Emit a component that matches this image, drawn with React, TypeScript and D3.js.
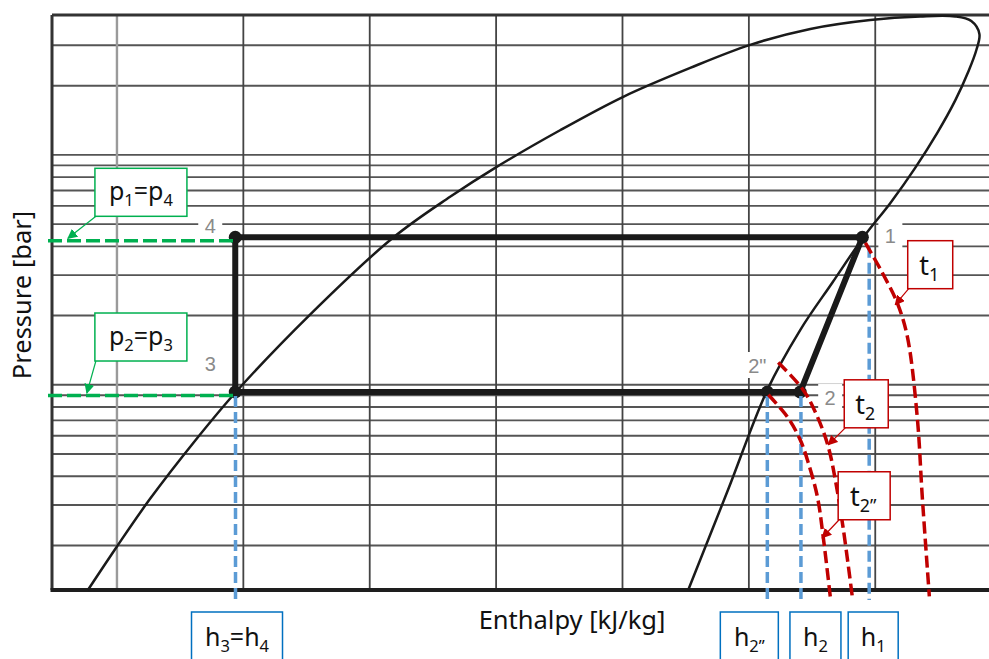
import React from 'react';
import * as d3 from 'd3';

const W = 989;
const H = 659;

// axes
const hExtent = [124.3, 495]; // kJ/kg
const pExtent = [1.28, 406]; // bar
const hGrid = [150, 200, 250, 300, 350, 400, 450];
const pGrid = [2, 3, 4, 5, 6, 7, 8, 9, 10, 20, 30, 40, 50, 60, 70, 80, 90, 100, 200, 300];

// saturation dome, liquid side -> critical point -> vapour side
const domeH = [138.5, 150, 163.1, 180.9, 197.5, 226.4, 259.2, 281.8, 299.6, 325.3, 350.3, 376.8, 400.5, 424.3, 448.0, 467.8, 481.7, 488.0, 491.2, 490.0, 486.8, 481.7, 474.6, 465.8, 456, 445.7, 433.0, 420.3, 407.3, 391.8, 376];
const domeP = [1.28, 1.98, 3.19, 5.71, 9.42, 20.2, 43.6, 65.7, 87.8, 128, 179, 239, 301, 353, 386, 400, 400, 382, 336, 286, 230, 173, 125, 87.8, 61.8, 44.4, 27.8, 17.3, 9.5, 3.5, 1.28];

// cycle
const pHigh = 43.8;
const pLow = 9.3;
const h34 = 196.8;
const h1 = 444.9;
const h2 = 420.3;
const h2s = 407.3;

// isotherms
const t1H = [446.1, 452.8, 458.7, 462.7, 466.6, 468.6, 471.4];
const t1P = [41.4, 30.7, 22.7, 16.2, 7.26, 3.26, 1.2];
const t2H = [411.6, 421.5, 427.1, 431.4, 434.2, 437.4, 440.9];
const t2P = [12.5, 9.5, 7.26, 5.38, 3.86, 2.34, 1.2];
const t2sH = [407.7, 415.2, 420.3, 423.5, 427.1, 429.4, 432.2];
const t2sP = [9.05, 7.26, 5.77, 4.58, 3.26, 2.18, 1.2];

// enthalpy markers
const markH = [196.9, 407.3, 420.6, 447.6];
const markFrom = [pLow, pLow, pLow, 41.5];
const markLabel = [['h', '3', '=h', '4'], ['h', '2”'], ['h', '2'], ['h', '1']];

const FONT = '"Noto Sans", "Open Sans", sans-serif';

function SubText({ parts, x, y, size = 25 }: { parts: string[]; x: number; y: number; size?: number }) {
  return (
    <text x={x} y={y} textAnchor="middle" fontFamily={FONT} fontSize={size} fill="#111">
      {parts.map((t, i) =>
        i % 2 === 1 ? (
          <tspan key={i} fontSize={size * 0.66} dy={6}>{t}</tspan>
        ) : (
          <tspan key={i} dy={i === 0 ? 0 : -6}>{t}</tspan>
        )
      )}
    </text>
  );
}

export default function App() {
  const x = d3.scaleLinear().domain(hExtent).range([52, W]);
  const y = d3.scaleLog().domain(pExtent).range([590, 15]);
  const left = x(hExtent[0]);
  const top = y(pExtent[1]);
  const bottom = y(pExtent[0]);

  const curve = d3.line<[number, number]>().x(d => x(d[0])).y(d => y(d[1])).curve(d3.curveCatmullRom.alpha(0.5));
  const zip = (a: number[], b: number[]) => a.map((v, i) => [v, b[i]] as [number, number]);

  const cycle = d3.line<[number, number]>().x(d => x(d[0])).y(d => y(d[1]));
  const cyclePts: [number, number][] = [[h34, pHigh], [h1, pHigh], [h2, pLow], [h34, pLow], [h34, pHigh]];
  const dots: [number, number][] = [[h34, pHigh], [h1, pHigh], [h2, pLow], [h2s, pLow], [h34, pLow]];

  const pointLabels = [
    { t: '4', h: h34, p: pHigh, dx: -25, dy: -12 },
    { t: '1', h: h1, p: pHigh, dx: 28, dy: -2 },
    { t: '3', h: h34, p: pLow, dx: -25, dy: -29 },
    { t: '2"', h: h2s, p: pLow, dx: -10, dy: -27 },
    { t: '2', h: h2, p: pLow, dx: 30, dy: 5 },
  ];

  const greenNotes = [
    { parts: ['p', '1', '=p', '4'], p: pHigh, th: 130.6, bx: 73, by: -46 },
    { parts: ['p', '2', '=p', '3'], p: pLow, th: 138.1, bx: 54, by: -56 },
  ];

  const redNotes = [
    { parts: ['t', '1'], h: 457.9, p: 22.3, bx: 35, by: -40, w: 45 },
    { parts: ['t', '2'], h: 431.4, p: 5.48, bx: 38, by: -41, w: 44 },
    { parts: ['t', '2”'], h: 429.0, p: 2.16, bx: 42, by: -42, w: 52 },
  ];

  const boxDx = [1.5, -18, 14.5, 4];
  const boxW = [91, 58, 51, 50];

  const green = '#00b050';
  const red = '#c00000';
  const blue = '#5b9bd5';

  return (
    <svg width={W} height={H} style={{ position: 'absolute', left: 0, top: 0, background: '#fff' }}>
      <defs>
        <marker id="ag" viewBox="0 0 10 10" refX="9" refY="5" markerWidth="10" markerHeight="10" markerUnits="userSpaceOnUse" orient="auto">
          <path d="M0,0L10,5L0,10z" fill={green} />
        </marker>
        <marker id="ar" viewBox="0 0 10 10" refX="9" refY="5" markerWidth="10" markerHeight="10" markerUnits="userSpaceOnUse" orient="auto">
          <path d="M0,0L10,5L0,10z" fill={red} />
        </marker>
      </defs>

      {/* grid */}
      {pGrid.map(p => (
        <line key={'p' + p} x1={left} x2={W} y1={y(p)} y2={y(p)} stroke="#555" strokeWidth={1.9} />
      ))}
      {hGrid.map((h, i) => (
        <line key={'h' + h} x1={x(h)} x2={x(h)} y1={top} y2={bottom} stroke={i === 0 ? '#9a9a9a' : '#444'} strokeWidth={i === 0 ? 2.4 : 1.8} />
      ))}
      <line x1={left} x2={W} y1={top} y2={top} stroke="#333" strokeWidth={3} />
      <line x1={left} x2={left} y1={top} y2={bottom} stroke="#333" strokeWidth={3} />
      <line x1={left - 1.5} x2={W} y1={bottom} y2={bottom} stroke="#1e1e1e" strokeWidth={4} />

      {/* dome */}
      <path d={curve(zip(domeH, domeP)) || ''} fill="none" stroke="#1a1a1a" strokeWidth={2.5} />

      {/* point labels */}
      {pointLabels.map(l => (
        <g key={l.t}>
          <rect x={x(l.h) + l.dx - 12} y={y(l.p) + l.dy - 13} width={24} height={26} fill="#fff" />
          <text x={x(l.h) + l.dx} y={y(l.p) + l.dy + 8} textAnchor="middle" fontFamily='"Liberation Sans", Arial, sans-serif' fontSize={20} fill="#8a8a8a">{l.t}</text>
        </g>
      ))}

      {/* cycle */}
      <path d={cycle(cyclePts) || ''} fill="none" stroke="#1a1a1a" strokeWidth={6} strokeLinejoin="round" />
      {dots.map((d, i) => (
        <circle key={i} cx={x(d[0])} cy={y(d[1])} r={6.5} fill="#1a1a1a" />
      ))}

      {/* green pressure lines */}
      {[pHigh, pLow].map(p => (
        <line key={p} x1={left - 4} x2={x(h34) + 2} y1={y(p) + 3.5} y2={y(p) + 3.5} stroke={green} strokeWidth={3.5} strokeDasharray="14 5" />
      ))}

      {/* blue enthalpy lines */}
      {markH.map((h, i) => (
        <line key={h} x1={x(h)} x2={x(h)} y1={y(markFrom[i]) + 4} y2={bottom + 10} stroke={blue} strokeWidth={3.5} strokeDasharray="11 5" />
      ))}

      {/* red isotherms */}
      {[zip(t1H, t1P), zip(t2H, t2P), zip(t2sH, t2sP)].map((pts, i) => (
        <path key={i} d={curve(pts) || ''} fill="none" stroke={red} strokeWidth={3.5} strokeDasharray="12 5" />
      ))}

      {/* green notes */}
      {greenNotes.map((n, i) => {
        const tx = x(n.th);
        const ty = y(n.p) + 1;
        const cx = tx + n.bx;
        const cy = ty + n.by;
        return (
          <g key={i}>
            <line x1={cx - 45} x2={tx} y1={cy + 24} y2={ty} stroke={green} strokeWidth={1.2} markerEnd="url(#ag)" />
            <rect x={cx - 46} y={cy - 24} width={92} height={48} fill="#fff" stroke={green} strokeWidth={1.5} />
            <SubText parts={n.parts} x={cx} y={cy + 8} />
          </g>
        );
      })}

      {/* red notes */}
      {redNotes.map((n, i) => {
        const tx = x(n.h);
        const ty = y(n.p);
        const cx = tx + n.bx;
        const cy = ty + n.by;
        return (
          <g key={i}>
            <line x1={cx - n.w / 2 + 1} x2={tx} y1={cy + 24} y2={ty} stroke={red} strokeWidth={1.2} markerEnd="url(#ar)" />
            <rect x={cx - n.w / 2} y={cy - 24} width={n.w} height={48} fill="#fff" stroke={red} strokeWidth={1.5} />
            <SubText parts={n.parts} x={cx - 1} y={cy + 10} size={27} />
          </g>
        );
      })}

      {/* enthalpy boxes */}
      {markH.map((h, i) => {
        const cx = x(h) + boxDx[i];
        return (
          <g key={'b' + h}>
            <rect x={cx - boxW[i] / 2} y={612} width={boxW[i]} height={52} fill="#fff" stroke="#0070c0" strokeWidth={1.5} />
            <SubText parts={markLabel[i]} x={cx} y={646} />
          </g>
        );
      })}

      {/* axis titles */}
      <text x={572} y={629} textAnchor="middle" fontFamily={FONT} fontSize={25.5} fill="#111">Enthalpy [kJ/kg]</text>
      <text transform="translate(31,295) rotate(-90)" textAnchor="middle" fontFamily={FONT} fontSize={25.5} fill="#111">Pressure [bar]</text>
    </svg>
  );
}
